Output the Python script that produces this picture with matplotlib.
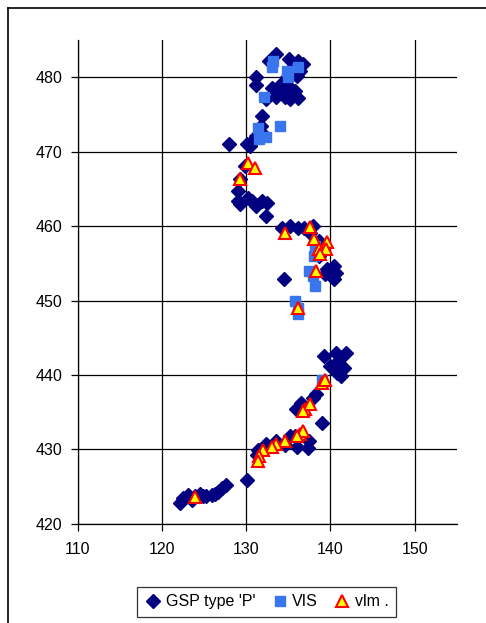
import matplotlib.pyplot as plt
from matplotlib.lines import Line2D

plt.rcParams['font.family'] = ['Liberation Sans', 'DejaVu Sans']

# GSP type 'P'
gsp_x = [133.5, 132.7, 135.1, 136.1, 136.7, 135.2, 136.4, 134.8, 136.0, 131.1,
         131.2, 133.1, 134.0, 135.2, 135.8, 134.6, 133.5, 135.2, 136.1, 132.4,
         134.0, 131.9, 131.8, 131.1, 130.8, 131.7, 128.0, 130.1, 130.5,
         129.9, 129.3, 129.0, 129.0, 130.2, 130.7, 131.2, 131.9, 132.5, 129.3,
         132.3, 134.3, 135.2, 136.2, 136.9, 137.9, 137.6, 138.6, 139.2, 139.0,
         138.6, 139.6, 140.4, 140.0, 140.6, 140.4, 139.4, 134.5,
         139.2, 140.7, 141.8, 141.0, 140.0, 141.0, 141.6, 140.8, 141.2, 138.3,
         137.9, 139.0,
         136.5, 135.9, 135.2, 135.8, 134.6, 136.0, 137.3, 137.4, 133.5, 132.3,
         131.4, 131.3, 130.1, 127.6, 127.1, 126.6, 125.9, 125.2, 124.5, 123.9,
         123.1, 122.5, 122.1, 123.3, 126.3, 124.9, 123.6]
gsp_y = [483.1, 482.2, 482.4, 482.1, 481.8, 481.0, 480.8, 480.0, 480.2, 480.0,
         478.9, 478.5, 478.1, 478.6, 478.1, 477.3, 477.3, 477.0, 477.2, 477.0,
         479.0, 474.8, 473.4, 472.1, 471.4, 472.6, 471.0, 471.0, 470.7,
         468.1, 466.3, 464.7, 463.4, 463.8, 463.4, 462.7, 463.4, 463.1, 463.0,
         461.4, 459.8, 460.0, 459.8, 459.8, 460.0, 459.1, 458.0, 457.3, 456.7,
         456.0, 454.3, 454.7, 453.7, 453.7, 452.9, 453.6, 452.9,
         442.6, 442.9, 442.9, 442.0, 441.2, 441.0, 441.0, 440.3, 439.9, 437.5,
         436.9, 433.5,
         436.2, 435.5, 431.8, 431.8, 430.6, 430.3, 430.2, 431.1, 431.2, 430.8,
         429.9, 429.2, 425.9, 425.2, 424.8, 424.3, 423.9, 423.7, 424.0, 423.7,
         423.9, 423.5, 422.8, 423.6, 424.0, 423.7, 423.2]

# VIS
vis_x = [133.0, 133.2, 134.8, 134.9, 136.1, 132.1, 131.4, 134.0, 132.3, 131.5,
         138.1, 138.2, 137.9, 138.2, 137.5, 135.8, 136.2, 136.2, 139.0]
vis_y = [481.4, 482.1, 480.8, 480.0, 481.3, 477.3, 473.1, 473.5, 471.9, 471.7,
         456.0, 457.3, 453.3, 452.0, 453.9, 450.0, 449.0, 448.2, 439.3]

# vlm.
vlm_x = [130.2, 131.0, 129.3, 134.6, 137.6, 138.1, 139.6, 138.6, 139.5, 138.8,
         138.3, 136.2, 139.0, 139.4, 137.0, 137.6, 136.7, 136.4, 136.7, 136.0,
         134.6, 133.5, 133.0, 132.0, 131.5, 131.4, 123.9]
vlm_y = [468.5, 467.8, 466.3, 459.1, 459.9, 458.2, 457.9, 456.9, 456.9, 456.3,
         454.0, 449.0, 438.9, 439.3, 435.5, 436.1, 435.1, 432.1, 432.5, 431.8,
         431.1, 430.7, 430.3, 429.9, 429.1, 428.4, 423.6]

x_ticks = [110, 120, 130, 140, 150]
y_ticks = [420, 430, 440, 450, 460, 470, 480]

fig = plt.figure(figsize=(4.86, 6.23), dpi=100)
ax = fig.add_axes([0.160, 0.159, 0.780, 0.777])

ax.plot(gsp_x, gsp_y, 'D', color='#000080', ms=7.2, mec='#000080',
        linestyle='none', label="GSP type 'P'", zorder=3)
ax.plot(vis_x, vis_y, 's', color='#3A75F0', ms=6.8, mec='#3A75F0',
        linestyle='none', label='VIS', zorder=4)
ax.plot(vlm_x, vlm_y, '^', color='#FFFF00', ms=8.2, mec='#FF0000', mew=1.5,
        linestyle='none', label='vlm .', zorder=5)

ax.set_xlim(110, 155)
ax.set_ylim(420, 485)
ax.set_xticks(x_ticks)
ax.set_yticks(y_ticks)
ax.grid(True, color='black', linewidth=0.9)
ax.set_axisbelow(True)
for s in ['top', 'right']:
    ax.spines[s].set_visible(False)
for s in ['left', 'bottom']:
    ax.spines[s].set_linewidth(0.9)
ax.tick_params(direction='out', length=5, width=0.9, labelsize=11.5, pad=6)
ax.tick_params(axis='x', pad=8)

# outer chart border
fig.add_artist(Line2D([0.017, 0.017], [0, 0.987], color='black', lw=1.2))
fig.add_artist(Line2D([0.017, 1.0], [0.987, 0.987], color='black', lw=1.2))

leg = fig.legend(loc='center', bbox_to_anchor=(0.548, 0.034), ncol=3,
                 fontsize=11.5, frameon=True, fancybox=False, edgecolor='black',
                 handletextpad=0.2, columnspacing=0.9, handlelength=1.2,
                 borderpad=0.45)
leg.get_frame().set_linewidth(0.9)

fig.savefig('out.png', dpi=100)
